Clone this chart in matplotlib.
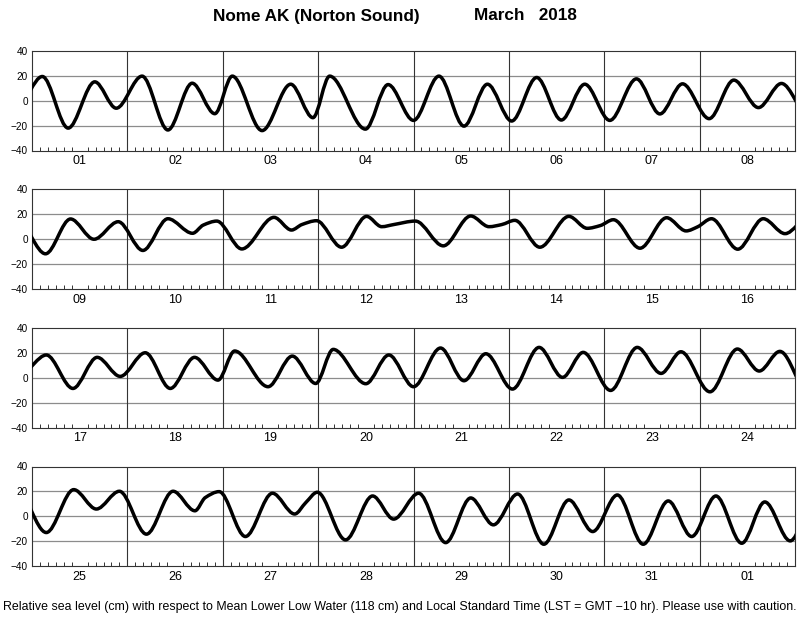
import matplotlib
matplotlib.use("Agg")
import matplotlib.pyplot as plt
from matplotlib.path import Path
from matplotlib.patches import PathPatch

plt.rcParams['font.family'] = ['Liberation Sans', 'DejaVu Sans']

# Turning points (and a few shoulder points) of the tide curve
# (hours from 1 March 00:00 LST, cm above MLLW)
tide_hours = [
    -3.8, 2.6, 9.1, 15.8, 21.2, 27.7, 34.2, 40.3, 46.0, 50.4, 57.9, 65.1, 70.7, 74.9,
    83.9, 89.6, 96.0, 102.4, 108.7, 114.6, 120.7, 127.0, 133.2, 139.1, 145.4, 152.1,
    158.0, 163.7, 170.4, 176.6, 182.8, 188.6, 195.4, 201.7, 207.6, 213.7, 219.9, 226.2,
    232.4, 235.1, 238.5, 244.8, 252.9, 257.3, 259.9, 263.6, 269.9, 276.2,
    280.0, 283.0, 288.5, 295.5, 302.4, 307.0, 310.2, 313.5, 319.8, 327.1,
    331.7, 335.0, 338.3, 345.0, 351.7, 356.6, 359.5, 363.0, 369.6, 376.0,
    381.5, 387.6, 394.3, 400.4, 406.2, 412.5, 418.8, 424.9, 430.8, 435.0, 443.4, 449.5,
    455.4, 459.8, 468.0, 473.8, 480.0, 486.8, 492.7, 498.2, 504.9, 511.6, 517.5, 522.7,
    529.6, 536.3, 542.3, 547.3, 554.6, 561.5, 567.0, 572.2, 579.6, 586.5, 592.2, 598.0,
    604.8, 611.5, 617.0, 619.6, 623.1, 629.7, 636.5, 642.1, 644.9, 647.8,
    654.9, 661.7, 667.0, 673.3, 680.1, 686.4, 692.1, 698.2, 704.8, 711.1, 717.1, 723.3,
    729.8, 736.1, 742.0, 748.1, 754.6, 760.4, 766.8, 773.0,
]
tide_cm = [
    -5.0, 19.5, -22.0, 15.2, -6.0, 19.8, -23.5, 14.1, -10.4, 19.8, -24.0, 13.3, -13.6, 19.8,
    -22.8, 13.0, -15.8, 19.8, -20.4, 13.3, -16.3, 18.7, -15.5, 13.3, -15.8, 17.6,
    -10.6, 13.6, -14.4, 16.6, -5.5, 13.9, -11.7, 16.3, 0.0, 14.1, -9.0, 16.5,
    4.8, 11.4, 14.6, -7.8, 17.6, 7.4, 11.8, 14.9, -6.4, 18.4,
    10.1, 11.8, 14.6, -5.3, 18.7, 10.1, 11.8, 15.2, -6.4, 18.4,
    8.8, 11.0, 15.7, -7.2, 17.3, 6.7, 10.0, 16.5, -8.0, 16.5,
    4.5, 18.3, -8.6, 16.4, 1.1, 20.1, -8.6, 16.4, -1.9, 21.5, -7.2, 17.4,
    -4.6, 22.8, -4.8, 18.3, -7.2, 23.9, -2.4, 19.3, -9.1, 24.4, 0.3, 20.4,
    -10.2, 24.4, 3.5, 20.9, -11.3, 23.1, 5.4, 21.2, -13.1, 21.4, 5.8, 20.1,
    -14.4, 20.1, 4.4, 15.0, 19.8, -16.3, 18.5, 1.8, 11.0, 19.3,
    -19.0, 16.3, -2.3, 18.5, -21.2, 14.7, -6.9, 17.9, -22.5, 13.1, -12.3, 17.1,
    -22.5, 12.3, -16.3, 16.3, -21.7, 11.5, -19.8, 14.0,
]

day_labels = ["01", "02", "03", "04", "05", "06", "07", "08",
              "09", "10", "11", "12", "13", "14", "15", "16",
              "17", "18", "19", "20", "21", "22", "23", "24",
              "25", "26", "27", "28", "29", "30", "31", "01"]
y_ticks = [-40, -20, 0, 20, 40]
title_left = "Nome AK (Norton Sound)"
title_right = "March   2018"
footer = ("Relative sea level (cm) with respect to Mean Lower Low Water (118 cm) and "
          "Local Standard Time (LST = GMT \u221210 hr). Please use with caution.")


def tide_path():
    """Monotone cubic Bezier path through the turning points (flat at extrema)."""
    t = [h / 24.0 for h in tide_hours]
    h = tide_cm
    n = len(t)
    slopes = []
    for i in range(n):
        if i == 0 or i == n - 1:
            slopes.append(0.0)
            continue
        d1 = (h[i] - h[i - 1]) / (t[i] - t[i - 1])
        d2 = (h[i + 1] - h[i]) / (t[i + 1] - t[i])
        if d1 * d2 <= 0:
            slopes.append(0.0)
        else:
            slopes.append(2.0 / (1.0 / d1 + 1.0 / d2))
    verts = [(t[0], h[0])]
    codes = [Path.MOVETO]
    for i in range(1, n):
        t0, h0, t1, h1 = t[i - 1], h[i - 1], t[i], h[i]
        dt = t1 - t0
        verts += [(t0 + dt / 3, h0 + slopes[i - 1] * dt / 3),
                  (t1 - dt / 3, h1 - slopes[i] * dt / 3), (t1, h1)]
        codes += [Path.CURVE4] * 3
    return Path(verts, codes)


fig = plt.figure(figsize=(8.0, 6.18), dpi=100)
W, H = 800.0, 618.0
left, right = 32, 795
tops = [51, 189.5, 328, 466.5]
ph = 99.5

for p in range(4):
    top = tops[p]
    ax = fig.add_axes([left / W, 1 - (top + ph) / H, (right - left) / W, ph / H])
    x0 = 8 * p
    ax.set_xlim(x0, x0 + 8)
    ax.set_ylim(-40, 40)
    for yv in (-20, 0, 20):
        ax.axhline(yv, color='#8c8c8c', lw=0.9, zorder=1)
    for d in range(1, 8):
        ax.axvline(x0 + d, color='#333333', lw=0.8, zorder=1)
    ax.set_yticks(y_ticks)
    ax.set_yticklabels([str(v).replace('-', '\u2212') for v in y_ticks], fontsize=7.2)
    ax.set_xticks([x0 + d + 0.5 for d in range(8)])
    ax.set_xticklabels(day_labels[8 * p: 8 * p + 8], fontsize=9)
    ax.set_xticks([x0 + k / 12.0 for k in range(1, 96) if k % 12 != 0], minor=True)
    ax.tick_params(axis='x', which='major', length=0, pad=3.5)
    ax.tick_params(axis='x', which='minor', direction='in', length=3, width=0.7,
                   color='#333333', bottom=True, top=False)
    ax.tick_params(axis='y', which='both', length=0, pad=3)
    for s in ax.spines.values():
        s.set_color('#333333')
        s.set_linewidth(0.8)
    patch = PathPatch(tide_path(), facecolor='none', edgecolor='black', lw=2.5,
                      zorder=3, capstyle='round', joinstyle='round')
    ax.add_patch(patch)
    patch.set_clip_path(ax.patch)

fig.text(213 / W, 1 - 16 / H, title_left, fontsize=12.3, fontweight='bold',
         ha='left', va='center')
fig.text(474 / W, 1 - 16 / H, title_right, fontsize=12.3, fontweight='bold',
         ha='left', va='center')
fig.text(400 / W, 1 - 607 / H, footer, fontsize=8.95, ha='center', va='center')

fig.savefig("out.png", dpi=100)
